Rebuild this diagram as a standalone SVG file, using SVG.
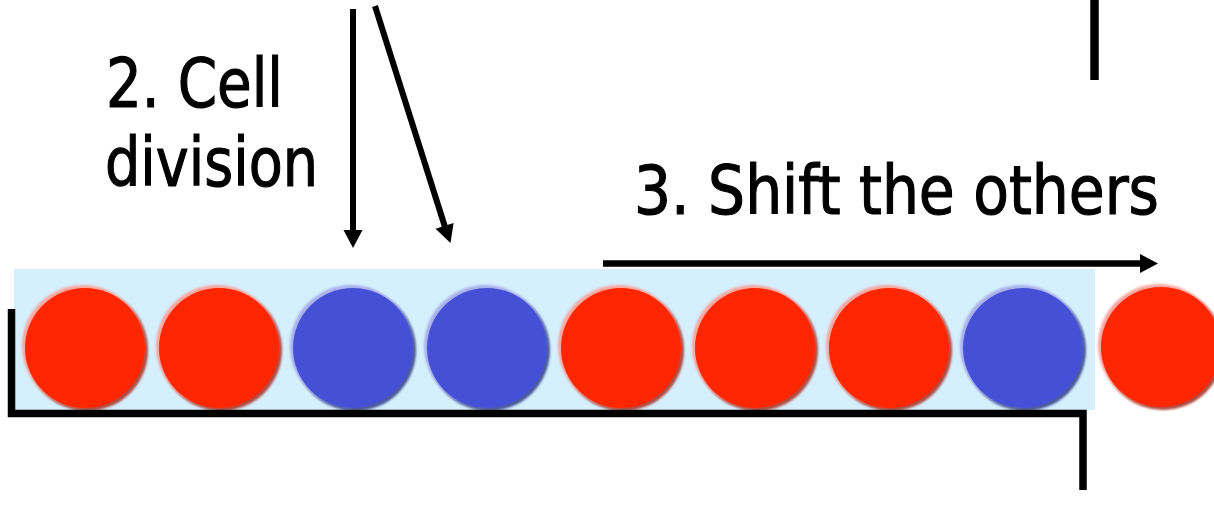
<svg xmlns="http://www.w3.org/2000/svg" width="1214" height="518" viewBox="0 0 1214 518">
<style>
.lbl{font-family:'DejaVu Sans Condensed','DejaVu Sans',sans-serif;font-stretch:condensed;font-size:67px;fill:#000;stroke:#000;stroke-width:1.1px}
.ln{stroke:#000;fill:none}
.hd{fill:#000}
.sh-r{fill:#b04a40}
.hl-r{fill:#f7a6a0}
.c-r{fill:#ff2600}
.sh-b{fill:#4a5898}
.hl-b{fill:#a8b0ec}
.c-b{fill:#4550d6}
</style>
<defs>
<filter id="soft" x="-10%" y="-10%" width="120%" height="120%"><feGaussianBlur stdDeviation="0.8"/></filter>
<g id="red">
<circle cx="2" cy="2" r="61" class="sh-r" filter="url(#soft)"/>
<circle cx="-2" cy="-2" r="61" class="hl-r" filter="url(#soft)"/>
<circle cx="0" cy="0" r="60" class="c-r"/>
</g>
<g id="blue">
<circle cx="2" cy="2" r="61" class="sh-b" filter="url(#soft)"/>
<circle cx="-2" cy="-2" r="61" class="hl-b" filter="url(#soft)"/>
<circle cx="0" cy="0" r="60" class="c-b"/>
</g>
</defs>
<rect width="1214" height="518" fill="#fff"/>
<g id="container">
<rect x="14" y="269" width="1081" height="141" fill="#d5effd"/>
</g>
<g id="cells">
<use id="cell1" href="#red" x="85" y="348"/>
<use id="cell2" href="#red" x="219" y="348"/>
<use id="cell3" href="#blue" x="353" y="348"/>
<use id="cell4" href="#blue" x="487" y="348"/>
<use id="cell5" href="#red" x="621" y="348"/>
<use id="cell6" href="#red" x="755" y="348"/>
<use id="cell7" href="#red" x="889" y="348"/>
<use id="cell8" href="#blue" x="1023" y="348"/>
<use id="cell9" href="#red" x="1161" y="347"/>
</g>
<g id="walls">
<path class="ln" d="M11.5 309 V413.5 H1083 V490" stroke-width="7.5"/>
<line class="ln" x1="1094.5" y1="0" x2="1094.5" y2="80" stroke-width="8.5"/>
</g>
<g id="labels">
<text class="lbl" x="106" y="107" textLength="177" lengthAdjust="spacingAndGlyphs">2. Cell</text>
<text class="lbl" x="105" y="186" textLength="213" lengthAdjust="spacingAndGlyphs">division</text>
<text class="lbl" x="634" y="214" textLength="525" lengthAdjust="spacingAndGlyphs">3. Shift the others</text>
</g>
<g id="connectors">
<line class="ln" x1="353" y1="9" x2="353" y2="232" stroke-width="6"/>
<polygon class="hd" points="343.5,230 362.5,230 353,248"/>
<line class="ln" x1="375" y1="6" x2="445" y2="227" stroke-width="6"/>
<polygon class="hd" points="453.6,223 435.5,228.7 450.5,243"/>
<line class="ln" x1="603" y1="263.5" x2="1142" y2="263.5" stroke-width="6.5"/>
<polygon class="hd" points="1140,254 1140,273 1158,263.5"/>
</g>
</svg>
